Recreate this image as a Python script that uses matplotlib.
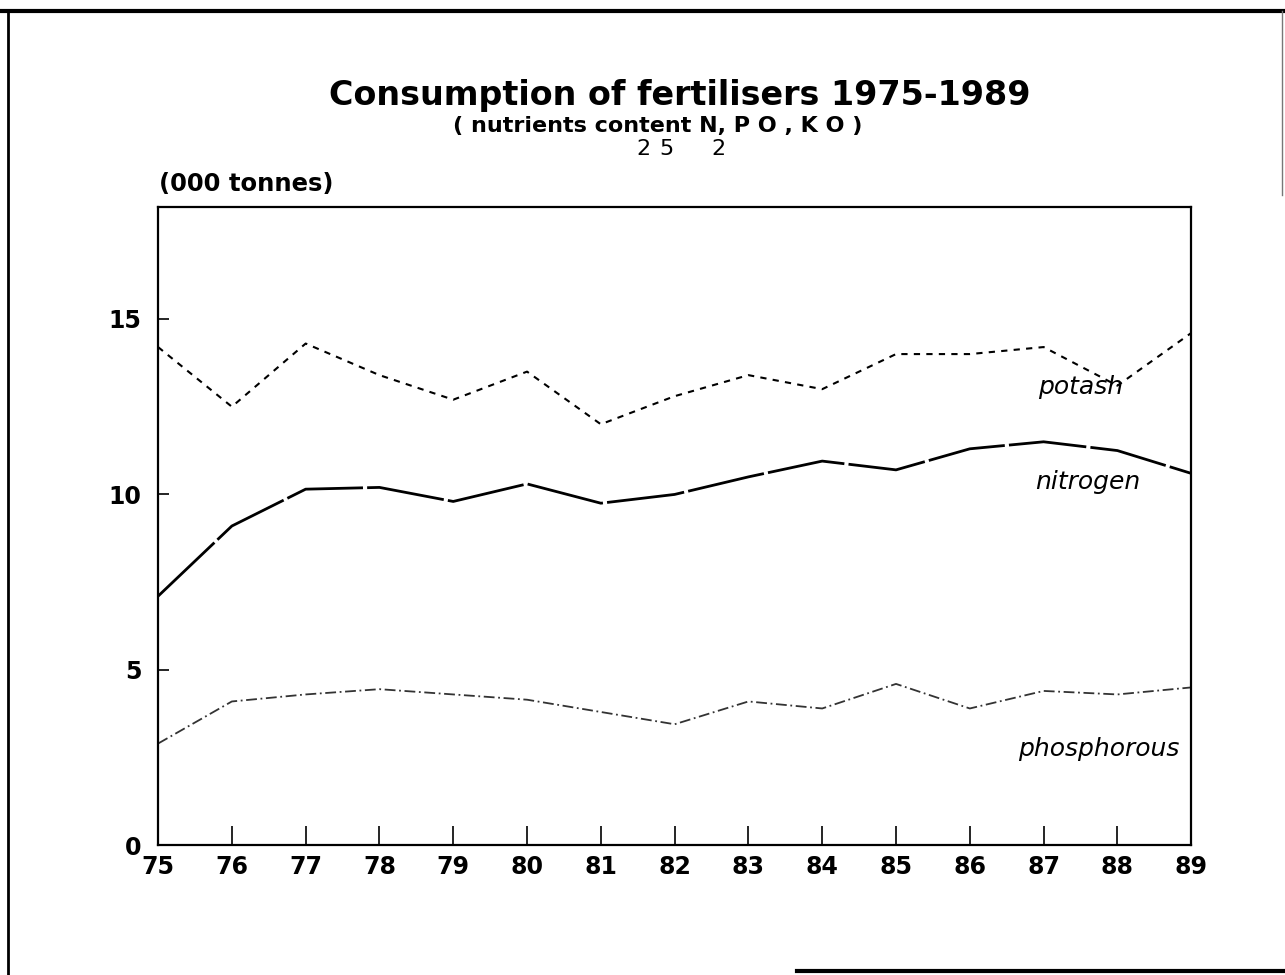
"""
Consumption of fertilisers 1975-1989, redrawn from a scanned figure.
"""
import matplotlib
matplotlib.use("Agg")
import matplotlib.pyplot as plt
from matplotlib.lines import Line2D

plt.rcParams["font.family"] = ["DejaVu Sans"]

years = list(range(75, 90))
year_labels = [str(y) for y in years]

# (000 tonnes)
potash = [14.2, 12.5, 14.3, 13.4, 12.7, 13.5, 12.0, 12.8, 13.4, 13.0,
          14.0, 14.0, 14.2, 13.1, 14.6]
nitrogen = [7.1, 9.1, 10.15, 10.2, 9.8, 10.3, 9.75, 10.0, 10.5, 10.95,
            10.7, 11.3, 11.5, 11.25, 10.6]
phosphorous = [2.9, 4.1, 4.3, 4.45, 4.3, 4.15, 3.8, 3.45, 4.1, 3.9,
               4.6, 3.9, 4.4, 4.3, 4.5]

y_ticks = [0, 5, 10, 15]

fig = plt.figure(figsize=(12.85, 9.75), dpi=100)
ax = fig.add_axes([0.123, 0.133, 0.804, 0.655])

ax.plot(years, potash, color="black", lw=1.5, dashes=(3, 3))
ax.plot(years, nitrogen, color="black", lw=2.0, dashes=(28, 1.5))
ax.plot(years, phosphorous, color="#333333", lw=1.3, dashes=(6, 2, 1, 2))

ax.set_xlim(years[0], years[-1])
ax.set_ylim(0, 18.2)
ax.set_xticks(years)
ax.set_xticklabels(year_labels, fontsize=17, fontweight="bold")
ax.set_yticks(y_ticks)
ax.set_yticklabels([str(t) for t in y_ticks], fontsize=17, fontweight="bold")
ax.tick_params(axis="x", direction="in", length=14, width=1.2, pad=7)
ax.tick_params(axis="y", direction="in", length=8, width=1.2, pad=12)
for side in ax.spines.values():
    side.set_linewidth(1.6)

# series labels
ax.text(87.5, 13.05, "potash", fontsize=18, style="italic", ha="center", va="center")
ax.text(87.6, 10.35, "nitrogen", fontsize=18, style="italic", ha="center", va="center")
ax.text(87.75, 2.75, "phosphorous", fontsize=18, style="italic", ha="center", va="center")

# titles
fig.text(0.529, 0.902, "Consumption of fertilisers 1975-1989",
         fontsize=24, fontweight="bold", ha="center", va="center")
fig.text(0.512, 0.871, "( nutrients content N, P O , K O )",
         fontsize=16, fontweight="bold", ha="center", va="center")
fig.text(0.501, 0.847, "2", fontsize=16, ha="center", va="center")
fig.text(0.519, 0.847, "5", fontsize=16, ha="center", va="center")
fig.text(0.559, 0.847, "2", fontsize=16, ha="center", va="center")
fig.text(0.124, 0.811, "(000 tonnes)", fontsize=17.5, fontweight="bold",
         ha="left", va="center")

# frame of the scanned page
fig.add_artist(Line2D([0.0, 1.0], [0.989, 0.989], color="black", lw=3))
fig.add_artist(Line2D([0.006, 0.006], [0.0, 0.989], color="black", lw=2))
fig.add_artist(Line2D([0.998, 0.998], [0.80, 0.989], color="#777777", lw=1))
fig.add_artist(Line2D([0.62, 1.0], [0.004, 0.004], color="black", lw=3))

fig.savefig("out.png", dpi=100)
